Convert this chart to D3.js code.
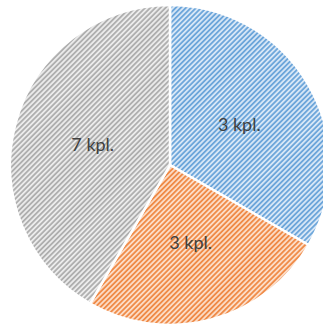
<!DOCTYPE html>
<html><head><meta charset="utf-8">
<script src="https://cdn.jsdelivr.net/npm/d3@7"></script>
<style>html,body{margin:0;padding:0;background:#fff;overflow:hidden}</style>
</head><body>
<svg id="c" width="323" height="325"></svg>
<script>
const categories = ["A", "B", "C"];
const values = [4, 3, 5];
const labels = ["3 kpl.", "3 kpl.", "7 kpl."];
const colors = ["#5b9bd5", "#ed7d31", "#a5a5a5"];
const tints = ["#d6e6f6", "#fcdcc6", "#ebebeb"];

const svg = d3.select("#c");
const cx = 170, cy = 165, r = 160;
const defs = svg.append("defs");
colors.forEach((c, i) => {
  const p = defs.append("pattern").attr("id", "p" + i)
    .attr("patternUnits", "userSpaceOnUse").attr("width", 3.6).attr("height", 3.6)
    .attr("patternTransform", "rotate(45)");
  p.append("rect").attr("width", 3.6).attr("height", 3.6).attr("fill", tints[i]);
  p.append("rect").attr("width", 1.8).attr("height", 3.6).attr("fill", c).attr("opacity", 0.85);
});
const pie = d3.pie().sort(null).value(d => d)(values);
const arc = d3.arc().innerRadius(0).outerRadius(r);
const g = svg.append("g").attr("transform", `translate(${cx},${cy})`);
g.selectAll("path").data(pie).join("path")
  .attr("d", arc).attr("fill", (d, i) => `url(#p${i})`)
  .attr("stroke", "#fff").attr("stroke-width", 2.5).attr("stroke-linejoin", "round");
const la = d3.arc().innerRadius(r * 0.5).outerRadius(r * 0.5);
g.selectAll("text").data(pie).join("text")
  .attr("transform", d => `translate(${la.centroid(d)})`)
  .attr("text-anchor", "middle").attr("dy", "0.35em")
  .attr("font-family", "Lato, 'Open Sans', sans-serif").attr("font-size", 18)
  .attr("fill", "#404040")
  .text((d, i) => labels[i]);
</script>
</body></html>
